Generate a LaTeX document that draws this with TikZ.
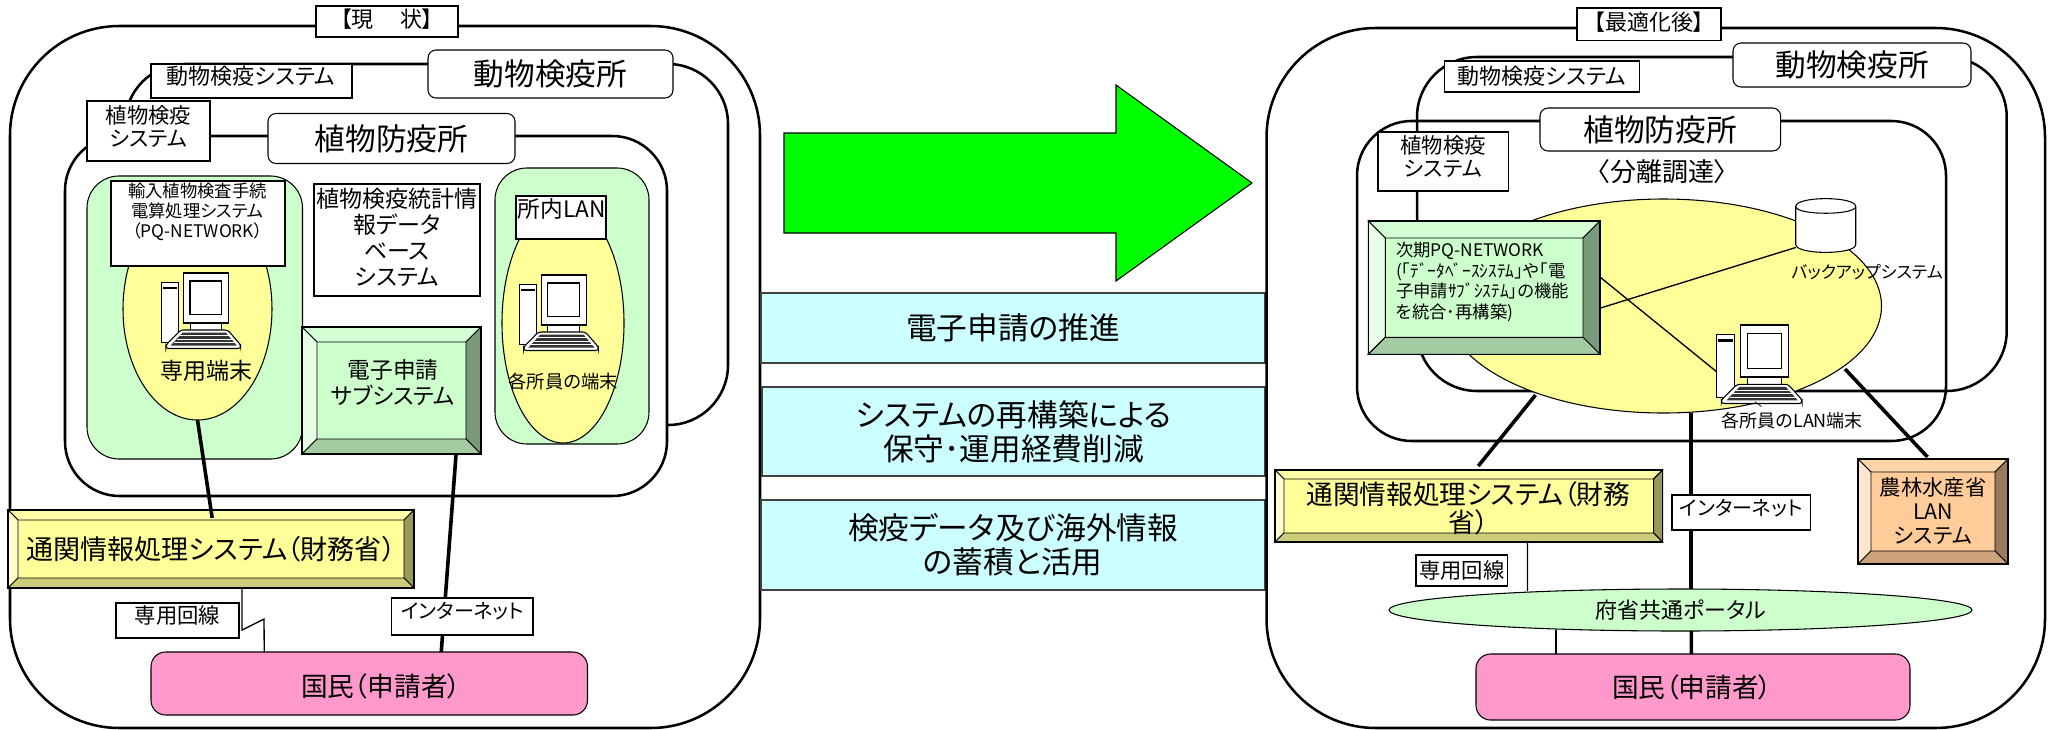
\documentclass[tikz,border=0pt]{standalone}
\usepackage{fontspec}
\usepackage{xcolor}
\setmainfont[RawFeature=+palt]{Noto Sans CJK JP}
\usetikzlibrary{calc,shapes.geometric}
\definecolor{cgreen}{RGB}{204,255,204}
\definecolor{cyellow}{RGB}{255,255,153}
\definecolor{corange}{RGB}{255,204,153}
\definecolor{cpink}{RGB}{255,153,204}
\definecolor{ccyan}{RGB}{204,255,255}
\definecolor{carrow}{RGB}{0,255,0}
\newcommand{\fsz}[2]{\fontsize{#1}{#2}\selectfont}
\tikzset{
	sz/.style 2 args={minimum width=#1*0.75pt,minimum height=#2*0.75pt,inner sep=0pt,outer sep=0pt},
	nw/.style={anchor=north west},
	frame/.style={draw,line width=1.9pt,rounded corners=#1},
	thinbox/.style={draw,line width=0.8pt,fill=white},
	tagbox/.style={draw,line width=0.8pt,fill=white,rounded corners=6pt},
	lanbox/.style={draw,line width=0.8pt,fill=cgreen,rounded corners=24pt},
	cyanbox/.style={draw=black!75,line width=0.8pt,fill=ccyan,font=\fsz{23}{25.5},align=center},
	blob/.style={ellipse,draw,line width=0.8pt,fill=#1},
	txt/.style={inner sep=0pt,outer sep=0pt,align=center},
	wire/.style={line width=1pt},
	trunk/.style={line width=2.7pt},
	pcterm/.pic={
		\draw [line width=0.7pt,fill=white] (0,9.3) rectangle (16.7,69.3);
		\fill [black] (1.5,13.5) rectangle (15.2,16);
		\draw [line width=0.8pt,fill=white] (21.7,0) rectangle (66.7,50);
		\draw [line width=0.8pt,fill=white] (28.3,8) rectangle (60,41.7);
		\draw [line width=0.7pt,fill=white] (28.3,50) rectangle (60,57);
		\draw [line width=0.8pt,fill=white,rounded corners=2pt] (19,57) -- (66,57) -- (79,72) -- (79,75.5) -- (4.3,75.5) -- (4.3,72) -- cycle;
		\fill [black!80] (21,59.5) -- (64,59.5) -- (75,72.5) -- (9,72.5) -- cycle;
		\draw [white,line width=0.45pt] (18,62.6) -- (68,62.6) (15,66) -- (71,66) (12,69.3) -- (74,69.3);
		\coordinate (-tower) at (0,45);
	}
}
% name, x1, y1, x2, y2, depth, colour, node options, text
\newcommand{\bevelbox}[9]{
	\pgfmathsetmacro{\bw}{#4-#2}
	\pgfmathsetmacro{\bh}{#5-#3}
	\fill [#7] (#2,#3) rectangle (#4,#5);
	\filldraw [line width=0.7pt,fill=#7!85!white] (#2,#3) -- (#4,#3) -- (#4-#6,#3+#6) -- (#2+#6,#3+#6) -- cycle;
	\filldraw [line width=0.7pt,fill=#7!50!white] (#2,#3) -- (#2+#6,#3+#6) -- (#2+#6,#5-#6) -- (#2,#5) -- cycle;
	\filldraw [line width=0.7pt,fill=#7!60!black] (#4,#3) -- (#4-#6,#3+#6) -- (#4-#6,#5-#6) -- (#4,#5) -- cycle;
	\filldraw [line width=0.7pt,fill=#7!80!black] (#2,#5) -- (#2+#6,#5-#6) -- (#4-#6,#5-#6) -- (#4,#5) -- cycle;
	\node (#1) [nw,draw,line width=1pt,sz={\bw}{\bh},align=center,#8] at (#2,#3) {#9};
}

\begin{document}
\begin{tikzpicture}[x=0.75pt,y=0.75pt,yscale=-1,xscale=1]
	\useasboundingbox (0,0) rectangle (2051,729);

	%left panel
	\node (outerA) [nw,frame=82pt,sz={750}{702}] at (10,26) {};
	\node (titleA) [nw,thinbox,sz={142}{31}] at (316,6) {};
	\node (titleAtxt) [txt,font=\fsz{16.5}{19}] at (387,19.5) {【現　 状】};

	\node (animalA) [nw,frame=45pt,sz={603}{361},fill=white] at (125,64) {};
	\node (animalAtag) [nw,tagbox,sz={245}{48},font=\fsz{23}{25}] at (428,50) {動物検疫所};
	\node (animalAsys) [nw,thinbox,sz={201}{34}] at (151,64) {};
	\node (animalAtxt) [txt,font=\fsz{16.5}{19}] at (251,76.5) {動物検疫システム};

	\node (plantA) [nw,frame=41pt,sz={602}{360},fill=white] at (65,136) {};
	\node (plantAtag) [nw,tagbox,sz={247}{50},font=\fsz{23}{25}] at (268,113.5) {植物防疫所};
	\node (plantAsys) [nw,thinbox,sz={123}{60}] at (87,101) {};
	\node (plantAtxt) [txt,font=\fsz{16}{17.25}] at (148.5,126.5) {植物検疫\\システム};

	\node (lanA) [nw,lanbox,sz={215.5}{283}] at (87,176) {};
	\node (termA) [blob=cyellow,sz={149}{222}] at (197.5,309) {};
	\node (pqA) [nw,thinbox,sz={174}{85}] at (111,181) {};
	\node (pqAtxt) [txt,font=\fsz{13}{15}] at (197.5,212) {輸入植物検査手続\\電算処理システム\\（PQ-NETWORK）};
	\pic [yscale=-1] (pcA) at (161.7,273) {pcterm};
	\node (termAtxt) [txt,font=\fsz{17.25}{19}] at (206.5,371) {専用端末};

	\node (statA) [nw,thinbox,sz={166}{112}] at (314,184) {};
	\node (statAtxt) [txt,font=\fsz{17.25}{19.5}] at (397,237) {植物検疫統計情\\報データ\\ベース\\システム};

	\bevelbox{denA}{302}{327}{481}{454}{15}{cgreen}{}{}
	\node (denAtxt) [txt,font=\fsz{17}{19.5}] at (393,383) {電子申請\\サブシステム};

	\node (lanB) [nw,lanbox,sz={154}{276}] at (495,168) {};
	\node (termB) [blob=cyellow,sz={122}{240}] at (563,323) {};
	\node (lanBbox) [nw,thinbox,sz={90}{43}] at (516,196) {};
	\node (lanBtxt) [txt,font=\fsz{17}{19}] at (561.7,209) {所内LAN};
	\pic [yscale=-1] (pcC) at (519.4,275) {pcterm};
	\node (termBtxt) [txt,font=\fsz{13.75}{16}] at (563,381) {各所員の端末};

	\bevelbox{customsA}{8}{510}{414}{588}{10}{cyellow}{font=\fsz{20.3}{22}}{通関情報処理システム（財務省）}
	\node (pinkA) [nw,draw,line width=0.8pt,fill=cpink,rounded corners=11pt,sz={436.5}{63}] at (151,652) {};
	\node (pinkAtxt) [txt,font=\fsz{20}{21}] at (381,686) {国民（申請者）};

	\draw [trunk,shorten >=-6pt] (termA.south) -- (customsA.north);
	\draw [trunk] ($(denA.south)+(64.5,1)$) -- ($(pinkA.north)+(72,0)$);
	\draw [wire] ($(customsA.south)+(31,0)$) -- ++(0,42) -- ++(22,-11) -- ($(pinkA.north)+(-105,0)$);

	\node (lineA) [nw,thinbox,sz={123}{35}] at (116,603) {};
	\node (lineAtxt) [txt,font=\fsz{16}{18}] at (177.6,615) {専用回線};
	\node (netA) [nw,thinbox,sz={141.5}{37}] at (391.5,598) {};
	\node (netAtxt) [txt,font=\fsz{15}{18}] at (462.7,610.7) {インターネット};

	%middle
	\draw [line width=0.8pt,fill=carrow] (784,133) -- (1116,133) -- (1116,85) -- (1252,183) -- (1116,281) -- (1116,233) -- (784,233) -- cycle;
	\node (goalA) [nw,cyanbox,sz={504}{70}] at (761,293) {電子申請の推進};
	\node (goalB) [nw,cyanbox,sz={503}{89}] at (762,387) {システムの再構築による\\保守･運用経費削減};
	\node (goalC) [nw,cyanbox,sz={504}{90}] at (761,500) {検疫データ及び海外情報\\の蓄積と活用};

	%right panel
	\node (outerB) [nw,frame=82pt,sz={778.5}{700}] at (1266.5,28) {};
	\node (titleB) [nw,thinbox,sz={144}{32.5}] at (1577,8) {};
	\node (titleBtxt) [txt,font=\fsz{16.5}{19}] at (1649,22) {【最適化後】};

	\node (animalB) [nw,frame=45pt,sz={589.7}{334}] at (1417,57) {};
	\node (plantB) [nw,frame=41pt,sz={589}{320}] at (1357,121) {};
	\node (animalBtag) [nw,tagbox,sz={238}{44},font=\fsz{23}{25}] at (1733,43) {動物検疫所};
	\node (animalBsys) [nw,thinbox,sz={194.8}{31},font=\fsz{16.5}{19}] at (1444.6,61) {動物検疫システム};
	\node (plantBtag) [nw,tagbox,sz={240.6}{43},font=\fsz{23}{25}] at (1540,108) {植物防疫所};
	\node (plantBsys) [nw,thinbox,sz={130.7}{59}] at (1378,132) {};
	\node (plantBtxt) [txt,font=\fsz{16}{17.25}] at (1443,156.5) {植物検疫\\システム};
	\node (splitB) [txt,font=\fsz{19.5}{22}] at (1662,172) {〈分離調達〉};

	\node (poolB) [blob=cyellow,sz={436}{214}] at (1663.5,306) {};
	\node (diskB) [sz={60}{52}] at (1825.7,225.5) {};
	\draw [line width=0.8pt,fill=white] (1795.7,206.5) .. controls (1795.7,196) and (1855.7,196) .. (1855.7,206.5) -- (1855.7,244.5) .. controls (1855.7,255) and (1795.7,255) .. (1795.7,244.5) -- cycle;
	\draw [line width=0.8pt] (1795.7,206.5) .. controls (1795.7,215.5) and (1855.7,215.5) .. (1855.7,206.5);
	\node (diskBtxt) [txt,font=\fsz{12.75}{15}] at (1867,272) {バックアップシステム};
	\pic [xscale=1.08,yscale=-1.04] (pcB) at (1716.7,325) {pcterm};
	\node (pcBtxt) [txt,font=\fsz{13.5}{16}] at (1792.4,421) {各所員のLAN端末};

	\bevelbox{pqB}{1368.3}{221}{1600}{354.3}{17}{cgreen}{}{}
	\node (pqBtxt) [txt,align=left,anchor=west,font=\fsz{13}{15.3}] at (1396,282) {次期PQ-NETWORK\\(｢ﾃﾞｰﾀﾍﾞｰｽｼｽﾃﾑ｣や｢電\\子申請ｻﾌﾞｼｽﾃﾑ｣の機能\\を統合･再構築)};

	\bevelbox{customsB}{1275}{470}{1662.6}{542}{9}{cyellow}{}{}
	\node (customsBtxt) [txt,font=\fsz{20}{21}] at (1468.4,508) {通関情報処理システム（財務\\省）};
	\bevelbox{farmB}{1858}{459}{2008}{564}{13}{corange}{font=\fsz{16}{18}}{農林水産省\\LAN\\システム}
	\node (portalB) [blob=cgreen,sz={583}{42},font=\fsz{16.5}{19}] at (1680.5,610) {府省共通ポータル};
	\node (pinkB) [nw,draw,line width=0.8pt,fill=cpink,rounded corners=11pt,sz={434}{66}] at (1476,654) {};
	\node (pinkBtxt) [txt,font=\fsz{20}{21}] at (1692,687) {国民（申請者）};

	\draw [wire] ($(pqB.east)+(0,20.5)$) -- ($(diskB.center)+(-30,22)$);
	\draw [wire] ($(pqB.east)+(0,-10.6)$) -- (pcB-tower);
	\draw [line width=0.5pt] ($(pcBtxt.north)+(-37.5,-11)$) -- ($(pcBtxt.north)+(-31,-6)$);
	\draw [trunk] ($(poolB.center)+(-128,89)$) -- ($(customsB.north)+(9.5,-4)$);
	\draw [trunk] ($(poolB.center)+(181.5,63)$) -- ($(farmB.north)+(-5.5,-2)$);
	\draw [trunk] ($(poolB.south)+(27.3,0)$) -- ($(portalB.north)+(10.3,0)$);
	\draw [wire] ($(customsB.south)+(58.6,0)$) -- ($(portalB.north)+(-153.1,2)$);
	\draw [wire] ($(portalB.south)+(-124.5,-1)$) -- ($(pinkB.north)+(-137,0)$);
	\draw [trunk] ($(portalB.south)+(10.9,0)$) -- ($(pinkB.north)+(-1.6,0)$);

	\node (netB) [nw,thinbox,sz={138.4}{35}] at (1672,495) {};
	\node (netBtxt) [txt,font=\fsz{15}{18}] at (1741,508) {インターネット};
	\node (lineB) [nw,thinbox,sz={91.7}{31},font=\fsz{16}{18}] at (1416,555) {専用回線};
\end{tikzpicture}
\end{document}
